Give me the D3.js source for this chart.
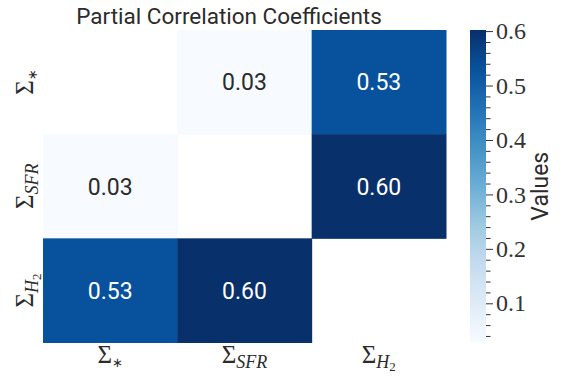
<!DOCTYPE html>
<html>
<head>
<meta charset="utf-8">
<script src="https://cdn.jsdelivr.net/npm/d3@7"></script>
<style>
  html, body { margin: 0; padding: 0; background: #fff; }
  svg { display: block; }
</style>
</head>
<body>
<svg id="chart" width="564" height="376"></svg>
<script>
// ---- data ----
const title = "Partial Correlation Coefficients";
const labelBase = "Σ";
const labelSubs = ["∗", "SFR", "H"];
const labelSubSubs = ["", "", "2"];
const values = [
  [null, 0.028, 0.53],
  [0.028, null, 0.602],
  [0.53, 0.602, null]
];
const colorbarTicks = [0.1, 0.2, 0.3, 0.4, 0.5, 0.6];
const colorbarMinorTicks = [0.04, 0.06, 0.08, 0.12, 0.14, 0.16, 0.18, 0.22, 0.24, 0.26, 0.28,
  0.32, 0.34, 0.36, 0.38, 0.42, 0.44, 0.46, 0.48, 0.52, 0.54, 0.56, 0.58];
const colorbarLabel = "Values";
const bluesStops = ["#f7fbff", "#deebf7", "#c6dbef", "#9ecae1", "#6baed6", "#4292c6", "#2171b5", "#08519c", "#08306b"];

// ---- layout ----
const svg = d3.select("#chart");
const hm = { left: 43, right: 446, top: 30, bottom: 342.5 };
const cb = { left: 470, right: 486, top: 30, bottom: 342.5 };
const sansFont = "Roboto, 'DejaVu Sans', sans-serif";
const serifFont = "'Liberation Serif', 'DejaVu Serif', serif";
const textColor = "#2b2b2b";

const idx = d3.range(values.length);
const x = d3.scaleBand().domain(idx).range([hm.left, hm.right]).padding(0);
const y = d3.scaleBand().domain(idx).range([hm.top, hm.bottom]).padding(0);

const flat = values.flat().filter(v => v !== null);
const vmin = d3.min(flat), vmax = d3.max(flat);
const color = d3.scaleLinear()
  .domain(bluesStops.map((_, i) => vmin + (vmax - vmin) * i / (bluesStops.length - 1)))
  .range(bluesStops)
  .interpolate(d3.interpolateRgb)
  .clamp(true);

// cells
const cells = [];
values.forEach((row, i) => row.forEach((v, j) => { if (v !== null) cells.push({ i, j, v }); }));

svg.append("g").selectAll("rect").data(cells).join("rect")
  .attr("x", d => x(d.j))
  .attr("y", d => y(d.i))
  .attr("width", x.bandwidth() + 0.5)
  .attr("height", y.bandwidth() + 0.5)
  .attr("fill", d => color(d.v));

function lum(c) {
  const r = d3.rgb(c);
  const f = u => { u /= 255; return u <= 0.03928 ? u / 12.92 : Math.pow((u + 0.055) / 1.055, 2.4); };
  return 0.2126 * f(r.r) + 0.7152 * f(r.g) + 0.0722 * f(r.b);
}

svg.append("g").selectAll("text").data(cells).join("text")
  .attr("x", d => x(d.j) + x.bandwidth() / 2)
  .attr("y", d => y(d.i) + y.bandwidth() / 2)
  .attr("dy", "0.36em")
  .attr("text-anchor", "middle")
  .attr("font-family", sansFont)
  .attr("font-size", 23)
  .attr("fill", d => lum(color(d.v)) > 0.408 ? textColor : "#ffffff")
  .text(d => d3.format(".2f")(d.v));

// math label helper
function mathLabel(sel, k) {
  sel.attr("font-family", serifFont).attr("fill", textColor).attr("text-anchor", "middle");
  sel.append("tspan").attr("font-size", 25).text(labelBase);
  const isStar = labelSubs[k] === "∗";
  sel.append("tspan")
    .attr("font-size", isStar ? 13 : 18)
    .attr("font-style", isStar ? "normal" : "italic")
    .attr("font-family", isStar ? "'DejaVu Sans', sans-serif" : serifFont)
    .attr("dy", isStar ? 4 : 5)
    .text(labelSubs[k]);
  if (labelSubSubs[k]) {
    sel.append("tspan").attr("font-size", 13).attr("dy", 3).text(labelSubSubs[k]);
  }
}

// x labels
idx.forEach(k => {
  svg.append("text")
    .attr("x", x(k) + x.bandwidth() / 2)
    .attr("y", 363)
    .call(s => mathLabel(s, k));
});
// y labels
idx.forEach(k => {
  svg.append("text")
    .attr("transform", `translate(33,${y(k) + y.bandwidth() / 2}) rotate(-90)`)
    .call(s => mathLabel(s, k));
});

// title
svg.append("text")
  .attr("x", 229)
  .attr("y", 24)
  .attr("text-anchor", "middle")
  .attr("font-family", sansFont)
  .attr("font-size", 22.5)
  .attr("fill", textColor)
  .text(title);

// colorbar
const cy = d3.scaleLinear().domain([vmin, vmax]).range([cb.bottom, cb.top]);
const defs = svg.append("defs");
const grad = defs.append("linearGradient").attr("id", "cbgrad")
  .attr("x1", 0).attr("y1", 1).attr("x2", 0).attr("y2", 0);
d3.range(0, 1.0001, 1 / 32).forEach(t => {
  grad.append("stop").attr("offset", t).attr("stop-color", color(vmin + t * (vmax - vmin)));
});
svg.append("rect")
  .attr("x", cb.left).attr("y", cb.top)
  .attr("width", cb.right - cb.left).attr("height", cb.bottom - cb.top)
  .attr("fill", "url(#cbgrad)");

const cbAxis = d3.axisRight(cy).tickValues(colorbarTicks).tickSize(7).tickPadding(3)
  .tickFormat(d3.format(".1f"));
const gAx = svg.append("g").attr("transform", `translate(${cb.right},0)`).call(cbAxis);
gAx.select(".domain").remove();
gAx.selectAll(".tick line").attr("stroke", "#333").attr("stroke-width", 1);
gAx.selectAll(".tick text")
  .attr("font-family", serifFont).attr("font-size", 24).attr("fill", "#333");

const cbMinor = d3.axisRight(cy).tickValues(colorbarMinorTicks).tickSize(4.5).tickFormat("");
const gMin = svg.append("g").attr("transform", `translate(${cb.right},0)`).call(cbMinor);
gMin.select(".domain").remove();
gMin.selectAll(".tick line").attr("stroke", "#333").attr("stroke-width", 1);

svg.append("text")
  .attr("transform", `translate(548,${(cb.top + cb.bottom) / 2}) rotate(-90)`)
  .attr("text-anchor", "middle")
  .attr("font-family", sansFont)
  .attr("font-size", 23)
  .attr("fill", textColor)
  .text(colorbarLabel);
</script>
</body>
</html>
